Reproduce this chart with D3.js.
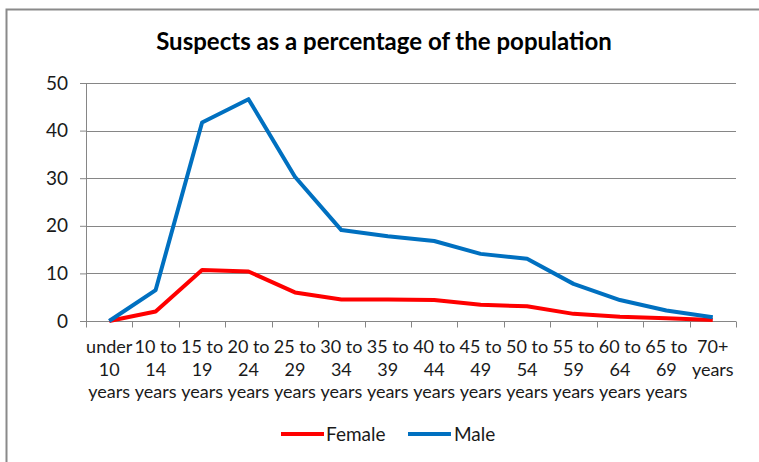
<!DOCTYPE html>
<html>
<head>
<meta charset="utf-8">
<script src="https://cdn.jsdelivr.net/npm/d3@7"></script>
<style>
  html, body { margin: 0; padding: 0; background: #fff; }
  svg { display: block; font-family: Lato, "Open Sans", sans-serif; }
</style>
</head>
<body>
<div id="chart"></div>
<script>
// Age groups on the horizontal axis
const ageGroups = [
  "under 10 years", "10 to 14 years", "15 to 19 years", "20 to 24 years",
  "25 to 29 years", "30 to 34 years", "35 to 39 years", "40 to 44 years",
  "45 to 49 years", "50 to 54 years", "55 to 59 years", "60 to 64 years",
  "65 to 69 years", "70+ years"
];

// Suspects as a percentage of the population, per age group
const female = [0, 2.0, 10.7, 10.4, 6.0, 4.5, 4.5, 4.4, 3.4, 3.1, 1.5, 0.9, 0.6, 0.2];
const male   = [0, 6.5, 41.7, 46.6, 30.3, 19.1, 17.8, 16.8, 14.1, 13.1, 7.8, 4.4, 2.2, 0.8];

const yTicks = [0, 10, 20, 30, 40, 50];

const seriesList = [
  { name: "Female", values: female, color: "#ff0000" },
  { name: "Male",   values: male,   color: "#0070c0" }
];

const W = 759, H = 462;
const margin = { left: 86, right: 23, top: 83, bottom: 141 };

const svg = d3.select("#chart").append("svg")
  .attr("width", W).attr("height", H);

// Outer frame
svg.append("rect")
  .attr("x", 6.5).attr("y", 9.5)
  .attr("width", W + 10).attr("height", H + 10)
  .attr("fill", "#fff")
  .attr("stroke", "#8a8a8a").attr("stroke-width", 2);

// Title
svg.append("text")
  .attr("x", 384).attr("y", 50)
  .attr("text-anchor", "middle")
  .attr("font-weight", "bold")
  .attr("font-size", 24)
  .attr("fill", "#000")
  .text("Suspects as a percentage of the population");

const x = d3.scaleBand()
  .domain(ageGroups)
  .range([margin.left, W - margin.right - 0])
  .padding(0);

const y = d3.scaleLinear()
  .domain([0, 50])
  .range([H - margin.bottom, margin.top]);

const gridColor = "#868686";
const labelColor = "#1a1a1a";
const labelSize = 19;
const catSize = 18;

// Horizontal gridlines with left ticks
const yAxis = d3.axisLeft(y).tickValues(yTicks).tickSize(6).tickPadding(12);
const gy = svg.append("g")
  .attr("transform", `translate(${margin.left},0)`)
  .call(yAxis);
gy.select(".domain").attr("stroke", gridColor);
gy.selectAll(".tick line").attr("stroke", gridColor);
gy.selectAll(".tick text")
  .attr("font-size", labelSize).attr("fill", labelColor)
  .attr("font-family", "Lato, sans-serif");

svg.append("g").selectAll("line")
  .data(yTicks.filter(d => d > 0))
  .join("line")
  .attr("x1", margin.left).attr("x2", x.range()[1])
  .attr("y1", d => Math.round(y(d)) + 0.5).attr("y2", d => Math.round(y(d)) + 0.5)
  .attr("stroke", gridColor).attr("stroke-width", 1);

// Category axis: ticks on band boundaries, wrapped labels under each band
const xBase = Math.round(y(0)) + 0.5;
const gx = svg.append("g");
gx.append("line")
  .attr("x1", x.range()[0]).attr("x2", x.range()[1])
  .attr("y1", xBase).attr("y2", xBase)
  .attr("stroke", gridColor);
const bounds = ageGroups.map(d => x(d)).concat([x.range()[1]]);
gx.selectAll("line.tk")
  .data(bounds)
  .join("line").attr("class", "tk")
  .attr("x1", d => Math.round(d) + 0.5).attr("x2", d => Math.round(d) + 0.5)
  .attr("y1", xBase).attr("y2", xBase + 6)
  .attr("stroke", gridColor);

const lineGap = 22.5;
const labels = gx.selectAll("text.cat")
  .data(ageGroups)
  .join("text").attr("class", "cat")
  .attr("text-anchor", "middle")
  .attr("font-size", catSize)
  .attr("fill", labelColor)
  .attr("x", d => x(d) + x.bandwidth() / 2)
  .attr("y", 353);

// Greedy word wrap within the band width
labels.each(function (d) {
  const el = d3.select(this);
  const words = d.split(" ");
  const maxW = x.bandwidth() + 4;
  let lines = [], cur = [];
  const probe = el.append("tspan");
  words.forEach(w => {
    const trial = cur.concat([w]).join(" ");
    probe.text(trial);
    if (cur.length && probe.node().getComputedTextLength() > maxW) {
      lines.push(cur.join(" "));
      cur = [w];
    } else {
      cur.push(w);
    }
  });
  lines.push(cur.join(" "));
  probe.remove();
  lines.forEach((ln, i) => {
    el.append("tspan")
      .attr("x", x(d) + x.bandwidth() / 2)
      .attr("dy", i === 0 ? 0 : lineGap)
      .text(ln);
  });
});

// Series lines through band centres
const line = d3.line()
  .x((d, i) => x(ageGroups[i]) + x.bandwidth() / 2)
  .y(d => y(d));

svg.append("g").selectAll("path")
  .data(seriesList)
  .join("path")
  .attr("d", s => line(s.values))
  .attr("fill", "none")
  .attr("stroke", s => s.color)
  .attr("stroke-width", 4)
  .attr("stroke-linejoin", "round")
  .attr("stroke-linecap", "butt");

// Legend
const legend = svg.append("g");
const legendPos = [{ x: 281, tx: 326 }, { x: 408, tx: 454 }];
seriesList.forEach((s, i) => {
  const p = legendPos[i];
  legend.append("line")
    .attr("x1", p.x).attr("x2", p.x + 43)
    .attr("y1", 434).attr("y2", 434)
    .attr("stroke", s.color).attr("stroke-width", 4);
  legend.append("text")
    .attr("x", p.tx).attr("y", 441)
    .attr("font-size", labelSize).attr("fill", labelColor)
    .text(s.name);
});
</script>
</body>
</html>
